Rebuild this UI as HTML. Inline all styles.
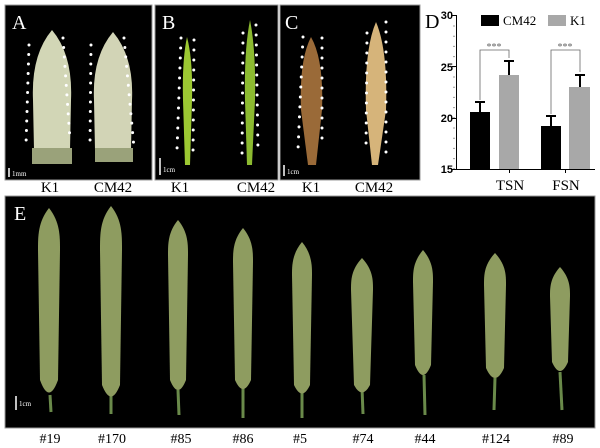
<!DOCTYPE html>
<html><head><meta charset="utf-8"><style>
html,body{margin:0;padding:0;background:#fff;}
svg{display:block;}
text{font-family:"Liberation Serif",serif;}
</style></head><body>
<svg width="600" height="448" viewBox="0 0 600 448" xmlns="http://www.w3.org/2000/svg">
<!-- Panel A -->
<rect x="5" y="5" width="147" height="175" fill="#000" stroke="#999" stroke-width="1"/>
<text x="12" y="29" font-size="20" fill="#fff">A</text>
<path d="M52,30 Q73,55 71,100 L70,150 L34,150 L33,100 Q31,55 52,30Z" fill="#d2d6b6"/>
<rect x="32" y="148" width="40" height="16" fill="#9aa27a"/>
<path d="M113,32 Q134,57 132,100 L131,150 L95,150 L94,100 Q92,57 113,32Z" fill="#d2d4b6"/>
<rect x="95" y="148" width="38" height="14" fill="#9aa27a"/>
<g stroke="#fff" stroke-width="3" stroke-linecap="round" stroke-dasharray="0 9.5">
<line x1="29" y1="45" x2="26" y2="145"/><line x1="63" y1="38" x2="70" y2="140"/>
<line x1="91" y1="45" x2="90" y2="145"/><line x1="124" y1="38" x2="134" y2="148"/>
</g>
<line x1="9" y1="168" x2="9" y2="177" stroke="#fff" stroke-width="1.5"/>
<text x="12" y="176" font-size="7" fill="#fff">1mm</text>
<!-- Panel B -->
<rect x="155" y="5" width="123" height="175" fill="#000" stroke="#999" stroke-width="1"/>
<text x="162" y="29" font-size="20" fill="#fff">B</text>
<path d="M187,37 Q193,60 192,100 L190,165 L185,165 L183,100 Q182,60 187,37Z" fill="#9cc832"/>
<path d="M250,20 Q256,50 255,100 L252,165 L247,165 L245,100 Q244,50 250,20Z" fill="#8cba30"/>
<g stroke="#fff" stroke-width="3" stroke-linecap="round" stroke-dasharray="0 10">
<line x1="181" y1="38" x2="177" y2="150"/><line x1="194" y1="40" x2="193" y2="155"/>
<line x1="243" y1="33" x2="242" y2="160"/><line x1="256" y1="25" x2="258" y2="152"/>
</g>
<line x1="160" y1="158" x2="160" y2="175" stroke="#fff" stroke-width="1.5"/>
<text x="163" y="172" font-size="7" fill="#fff">1cm</text>
<!-- Panel C -->
<rect x="280" y="5" width="140" height="175" fill="#000" stroke="#999" stroke-width="1"/>
<text x="285" y="29" font-size="20" fill="#fff">C</text>
<path d="M311,37 Q324,60 322,110 L316,165 L308,165 L301,110 Q299,60 311,37Z" fill="#9a6a38"/>
<path d="M376,22 Q388,50 386,110 L378,165 L372,165 L366,110 Q364,50 376,22Z" fill="#d6b47a"/>
<g stroke="#fff" stroke-width="3" stroke-linecap="round" stroke-dasharray="0 10">
<line x1="303" y1="37" x2="298" y2="150"/><line x1="322" y1="38" x2="322" y2="140"/>
<line x1="367" y1="33" x2="366" y2="150"/><line x1="386" y1="22" x2="386" y2="160"/>
</g>
<line x1="284" y1="165" x2="284" y2="176" stroke="#fff" stroke-width="1.5"/>
<text x="287" y="174" font-size="7" fill="#fff">1cm</text>
<!-- labels -->
<g font-size="15" fill="#000" text-anchor="middle">
<text x="50" y="192">K1</text><text x="113" y="192">CM42</text>
<text x="180" y="192">K1</text><text x="256" y="192">CM42</text>
<text x="311" y="192">K1</text><text x="374" y="192">CM42</text>
</g>
<!-- Panel D -->
<text x="425" y="28" font-size="20">D</text>
<g font-size="11" font-weight="bold" text-anchor="end">
<text x="453" y="19" style="font-family:'Liberation Sans',sans-serif">30</text>
<text x="453" y="71" style="font-family:'Liberation Sans',sans-serif">25</text>
<text x="453" y="122" style="font-family:'Liberation Sans',sans-serif">20</text>
<text x="453" y="173" style="font-family:'Liberation Sans',sans-serif">15</text>
</g>
<g stroke="#000" stroke-width="1">
<line x1="456.5" y1="15" x2="456.5" y2="169"/><line x1="456" y1="169.5" x2="595" y2="169.5"/>
<line x1="452" y1="15.5" x2="457" y2="15.5"/><line x1="452" y1="66.5" x2="457" y2="66.5"/>
<line x1="452" y1="118.5" x2="457" y2="118.5"/><line x1="452" y1="169.5" x2="457" y2="169.5"/>
<line x1="509.5" y1="169" x2="509.5" y2="173"/><line x1="565.5" y1="169" x2="565.5" y2="173"/>
</g>
<g stroke="#000" stroke-width="0.8" stroke-dasharray="1 9.2">
<line x1="454" y1="25.5" x2="454" y2="169" />
</g>
<rect x="470" y="112" width="20" height="57" fill="#000"/>
<rect x="499" y="75" width="20" height="94" fill="#a8a8a8"/>
<rect x="541" y="126" width="20" height="43" fill="#000"/>
<rect x="569" y="87" width="21" height="82" fill="#a8a8a8"/>
<g stroke="#000" stroke-width="2">
<line x1="480" y1="112" x2="480" y2="102"/><line x1="475" y1="102" x2="485" y2="102"/>
<line x1="509" y1="75" x2="509" y2="61"/><line x1="504" y1="61" x2="514" y2="61"/>
<line x1="551" y1="126" x2="551" y2="116"/><line x1="546" y1="116" x2="556" y2="116"/>
<line x1="580" y1="87" x2="580" y2="75"/><line x1="575" y1="75" x2="585" y2="75"/>
</g>
<g stroke="#666" stroke-width="0.8" fill="none">
<path d="M480,100 V50 H509 V58"/><path d="M551,114 V50 H580 V72"/>
</g>
<text x="494" y="50" font-size="10" fill="#666" text-anchor="middle">***</text>
<text x="565" y="50" font-size="10" fill="#666" text-anchor="middle">***</text>
<rect x="481" y="15" width="18" height="11" fill="#000"/>
<text x="503" y="25" font-size="13">CM42</text>
<rect x="548" y="15" width="18" height="11" fill="#a8a8a8"/>
<text x="570" y="25" font-size="13">K1</text>
<text x="510" y="190" font-size="15" text-anchor="middle">TSN</text>
<text x="566" y="190" font-size="15" text-anchor="middle">FSN</text>
<!-- Panel E -->
<rect x="5" y="196" width="590" height="232" fill="#000" stroke="#999" stroke-width="1"/>
<text x="14" y="220" font-size="20" fill="#fff">E</text>
<g stroke="#6a8a4a" stroke-width="3">
<line x1="50" y1="395" x2="51" y2="412"/><line x1="111" y1="395" x2="111" y2="414"/>
<line x1="178" y1="390" x2="179" y2="415"/><line x1="243" y1="388" x2="243" y2="418"/>
<line x1="302" y1="390" x2="302" y2="418"/><line x1="362" y1="388" x2="363" y2="414"/>
<line x1="424" y1="375" x2="425" y2="415"/><line x1="495" y1="378" x2="494" y2="410"/>
<line x1="560" y1="372" x2="562" y2="410"/>
</g>
<g fill="#8e9c60">
<path d="M49,208 C60,222 60,236 60,250 L58,380 Q49,405 40,380 L38,250 C38,236 38,222 49,208Z"/>
<path d="M111,206 C122,220 122,234 122,250 L120,385 Q111,408 102,385 L100,250 C100,234 100,220 111,206Z"/>
<path d="M178,220 C188,232 188,244 188,255 L186,380 Q178,400 170,380 L168,255 C168,244 168,232 178,220Z"/>
<path d="M243,228 C253,240 253,252 253,262 L251,380 Q243,398 235,380 L233,262 C233,252 233,240 243,228Z"/>
<path d="M302,242 C312,254 312,266 312,275 L310,385 Q302,402 294,385 L292,275 C292,266 292,254 302,242Z"/>
<path d="M362,258 C373,270 373,280 373,290 L370,385 Q362,400 354,385 L351,290 C351,280 351,270 362,258Z"/>
<path d="M423,250 C433,262 433,272 433,282 L431,365 Q423,385 415,365 L413,282 C413,272 413,262 423,250Z"/>
<path d="M495,253 C506,265 506,275 506,285 L504,368 Q495,388 486,368 L484,285 C484,275 484,265 495,253Z"/>
<path d="M560,267 C570,278 570,288 570,296 L568,362 Q560,380 552,362 L550,296 C550,288 550,278 560,267Z"/>
</g>
<line x1="16" y1="396" x2="16" y2="410" stroke="#fff" stroke-width="1.5"/>
<text x="19" y="406" font-size="7" fill="#fff">1cm</text>
<g font-size="14" text-anchor="middle">
<text x="50" y="443">#19</text><text x="112" y="443">#170</text><text x="181" y="443">#85</text>
<text x="243" y="443">#86</text><text x="300" y="443">#5</text><text x="363" y="443">#74</text>
<text x="425" y="443">#44</text><text x="496" y="443">#124</text><text x="563" y="443">#89</text>
</g>
</svg>
</body></html>
